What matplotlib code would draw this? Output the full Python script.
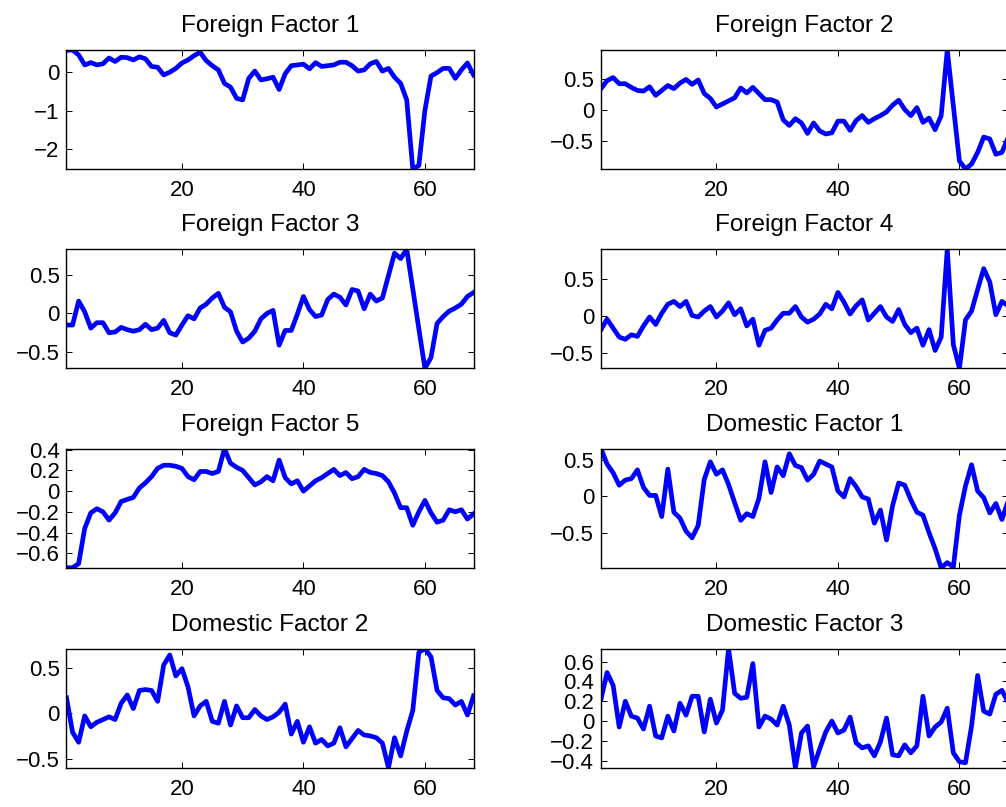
import numpy as np
import matplotlib
matplotlib.use("Agg")
import matplotlib.pyplot as plt

# time index 1..68
t = np.arange(1, 69)

foreign_1 = [0.57, 0.58, 0.45, 0.19, 0.25, 0.19, 0.22, 0.37, 0.28, 0.39,
             0.38, 0.32, 0.40, 0.35, 0.15, 0.13, -0.07, 0.00, 0.10, 0.24,
             0.32, 0.43, 0.52, 0.30, 0.17, 0.06, -0.29, -0.39, -0.68, -0.72,
             -0.16, 0.03, -0.20, -0.17, -0.13, -0.45, -0.04, 0.17, 0.19, 0.21,
             0.09, 0.25, 0.15, 0.17, 0.19, 0.26, 0.26, 0.17, 0.03, 0.06,
             0.22, 0.28, 0.03, 0.10, -0.13, -0.29, -0.72, -2.52, -2.43, -0.99,
             -0.10, -0.01, 0.10, 0.10, -0.16, 0.06, 0.24, -0.07]

foreign_2 = [0.35, 0.48, 0.53, 0.43, 0.43, 0.37, 0.32, 0.31, 0.38, 0.24,
             0.32, 0.40, 0.35, 0.44, 0.50, 0.42, 0.49, 0.27, 0.19, 0.05,
             0.10, 0.15, 0.20, 0.36, 0.28, 0.37, 0.27, 0.17, 0.17, 0.13,
             -0.16, -0.25, -0.14, -0.21, -0.38, -0.21, -0.34, -0.39, -0.37, -0.18,
             -0.18, -0.33, -0.17, -0.09, -0.20, -0.14, -0.09, -0.03, 0.08, 0.16,
             0.01, -0.09, 0.04, -0.20, -0.13, -0.32, -0.09, 0.98, 0.07, -0.83,
             -0.96, -0.88, -0.69, -0.44, -0.47, -0.72, -0.69, -0.45]

foreign_3 = [-0.15, -0.15, 0.16, 0.02, -0.19, -0.12, -0.12, -0.25, -0.24, -0.18,
             -0.21, -0.23, -0.21, -0.14, -0.21, -0.19, -0.09, -0.25, -0.28, -0.15,
             -0.03, -0.07, 0.07, 0.12, 0.20, 0.26, 0.08, 0.02, -0.23, -0.37,
             -0.32, -0.23, -0.07, 0.00, 0.04, -0.41, -0.22, -0.22, -0.01, 0.22,
             0.05, -0.04, -0.02, 0.18, 0.25, 0.21, 0.11, 0.31, 0.29, 0.06,
             0.25, 0.16, 0.20, 0.49, 0.78, 0.71, 0.83, 0.32, -0.20, -0.71,
             -0.57, -0.13, -0.04, 0.03, 0.07, 0.12, 0.22, 0.27]

foreign_4 = [-0.18, -0.04, -0.16, -0.28, -0.31, -0.25, -0.27, -0.13, -0.01, -0.11,
             0.04, 0.16, 0.20, 0.13, 0.20, 0.01, -0.01, 0.07, 0.13, -0.01,
             0.07, 0.18, 0.02, 0.10, -0.13, -0.04, -0.39, -0.19, -0.16, -0.05,
             0.04, 0.04, 0.13, -0.01, -0.08, -0.04, 0.03, 0.16, 0.10, 0.32,
             0.19, 0.03, 0.14, 0.22, -0.05, 0.04, 0.13, -0.01, -0.07, 0.09,
             -0.11, -0.22, -0.16, -0.39, -0.18, -0.46, -0.28, 0.90, -0.38, -0.70,
             -0.05, 0.07, 0.36, 0.64, 0.46, 0.02, 0.20, 0.14]

foreign_5 = [-0.74, -0.74, -0.70, -0.36, -0.21, -0.17, -0.20, -0.28, -0.21, -0.10,
             -0.08, -0.06, 0.03, 0.08, 0.14, 0.22, 0.25, 0.25, 0.24, 0.22,
             0.14, 0.11, 0.19, 0.19, 0.17, 0.19, 0.41, 0.27, 0.23, 0.20,
             0.13, 0.06, 0.09, 0.14, 0.10, 0.30, 0.13, 0.07, 0.10, 0.00,
             0.05, 0.10, 0.13, 0.17, 0.21, 0.15, 0.18, 0.12, 0.14, 0.21,
             0.18, 0.17, 0.15, 0.09, -0.02, -0.16, -0.16, -0.33, -0.20, -0.09,
             -0.21, -0.30, -0.28, -0.18, -0.20, -0.18, -0.27, -0.22]

domestic_1 = [0.65, 0.44, 0.32, 0.15, 0.22, 0.24, 0.36, 0.12, 0.01, 0.01,
              -0.28, 0.37, -0.22, -0.30, -0.48, -0.57, -0.40, 0.23, 0.47, 0.30,
              0.36, 0.16, -0.09, -0.33, -0.24, -0.28, -0.03, 0.47, 0.05, 0.40,
              0.28, 0.58, 0.42, 0.39, 0.22, 0.30, 0.48, 0.44, 0.40, 0.07,
              -0.01, 0.24, 0.13, -0.01, -0.04, -0.37, -0.19, -0.60, -0.13, 0.18,
              0.15, -0.05, -0.22, -0.26, -0.50, -0.72, -0.98, -0.91, -0.97, -0.26,
              0.14, 0.43, 0.07, -0.02, -0.23, -0.10, -0.32, -0.07]

domestic_2 = [0.17, -0.21, -0.32, -0.03, -0.15, -0.10, -0.07, -0.04, -0.07, 0.11,
              0.20, 0.05, 0.25, 0.26, 0.25, 0.13, 0.53, 0.64, 0.41, 0.49,
              0.29, -0.03, 0.08, 0.13, -0.09, -0.11, 0.13, -0.13, 0.08, -0.05,
              -0.05, 0.04, -0.03, -0.07, -0.04, 0.01, 0.10, -0.23, -0.09, -0.32,
              -0.15, -0.33, -0.29, -0.36, -0.33, -0.16, -0.37, -0.28, -0.19, -0.24,
              -0.25, -0.27, -0.33, -0.60, -0.27, -0.47, -0.20, 0.03, 0.67, 0.71,
              0.62, 0.25, 0.17, 0.16, 0.09, 0.13, -0.02, 0.19]

domestic_3 = [0.22, 0.49, 0.36, -0.06, 0.20, 0.05, 0.03, -0.08, 0.15, -0.15,
              -0.17, 0.05, -0.10, 0.18, 0.06, 0.25, 0.25, -0.11, 0.22, -0.02,
              0.11, 0.73, 0.28, 0.23, 0.24, 0.58, -0.06, 0.05, 0.02, -0.04,
              0.15, -0.04, -0.47, -0.12, -0.05, -0.46, -0.28, -0.11, 0.00, -0.12,
              -0.09, 0.04, -0.22, -0.27, -0.25, -0.35, -0.21, 0.03, -0.34, -0.35,
              -0.24, -0.32, -0.25, 0.25, -0.15, -0.06, -0.01, 0.13, -0.32, -0.41,
              -0.42, -0.05, 0.46, 0.10, 0.07, 0.27, 0.31, 0.19]

titles = ["Foreign Factor 1", "Foreign Factor 2", "Foreign Factor 3", "Foreign Factor 4",
          "Foreign Factor 5", "Domestic Factor 1", "Domestic Factor 2", "Domestic Factor 3"]
series = [foreign_1, foreign_2, foreign_3, foreign_4,
          foreign_5, domestic_1, domestic_2, domestic_3]
yticks = [[-2, -1, 0], [-0.5, 0, 0.5], [-0.5, 0, 0.5], [-0.5, 0, 0.5],
          [-0.6, -0.4, -0.2, 0, 0.2, 0.4], [-0.5, 0, 0.5], [-0.5, 0, 0.5],
          [-0.4, -0.2, 0, 0.2, 0.4, 0.6]]

plt.rcParams["font.family"] = ["Liberation Sans", "DejaVu Sans"]

fig = plt.figure(figsize=(10.06, 8.07), dpi=100)

# subplot(4,2,k) positions, right column runs a bit past the edge like the original
lefts = [0.0661, 0.5974]
width = 0.4046
bottoms = [0.7906, 0.5436, 0.2965, 0.0487]
height = 0.1475

for k in range(8):
    row, col = divmod(k, 2)
    ax = fig.add_axes([lefts[col], bottoms[row], width, height])
    y = np.array(series[k])
    ax.plot(t, y, color="#0000ff", linewidth=3.4, solid_joinstyle="round")
    ax.set_xlim(1, 68)
    ax.set_ylim(y.min(), y.max())
    ax.set_xticks([20, 40, 60])
    ax.set_yticks(yticks[k])
    # proper minus sign
    ax.set_yticklabels([f"{v:g}".replace("-", "\u2212") for v in yticks[k]])
    ax.tick_params(direction="in", top=True, right=True, length=4, width=0.7,
                   labelsize=16)
    ax.tick_params(axis="x", pad=8)
    ax.tick_params(axis="y", pad=5)
    for s in ax.spines.values():
        s.set_linewidth(1.0)
    ax.set_title(titles[k], fontsize=17.6, pad=13)

fig.savefig("out.png", dpi=100)
plt.close()
